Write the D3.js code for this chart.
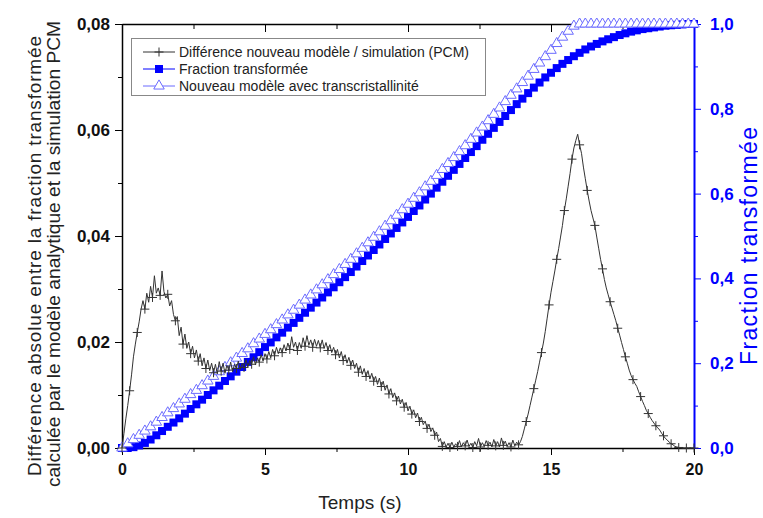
<!DOCTYPE html>
<html><head><meta charset="utf-8">
<script src="https://cdn.jsdelivr.net/npm/d3@7"></script>
<style>
html,body{margin:0;padding:0;background:#fff;}
text{font-family:"Liberation Sans",Arial,sans-serif;}
</style></head>
<body><svg id="c" width="763" height="518"></svg>
<script>
// ---------------- DATA ----------------
const xTicks = [0, 5, 10, 15, 20];
const yLeftTicks = [0, 0.02, 0.04, 0.06, 0.08];
const yRightTicks = [0, 0.2, 0.4, 0.6, 0.8, 1.0];
const seriesNames = ["Différence nouveau modèle / simulation (PCM)", "Fraction transformée", "Nouveau modèle avec transcristallinité"];
const xTitle = "Temps (s)";
const yLeftTitle = ["Différence absolue entre la fraction transformée", "calculée par le modèle analytique et la simulation PCM"];
const yRightTitle = "Fraction transformée";

// difference curve, sampled every 1/15 s from 0 to 20 s
const diffStep = 1 / 15;
const diffValues = [
0,0.0027,0.0055,0.0080,0.0108,0.0138,0.0172,0.0196,0.0218,0.0238,0.0262,0.0278,0.0262,0.0292,0.0275,
0.0305,0.0284,0.0325,0.0292,0.0302,0.0288,0.0334,0.0295,0.0283,0.0290,0.0268,0.0278,0.0252,0.0240,0.0248,
0.0212,0.0228,0.0196,0.0215,0.0188,0.0200,0.0178,0.0192,0.0170,0.0185,0.0164,0.0178,0.0155,0.0170,0.0150,
0.0166,0.0146,0.0160,0.0142,0.0158,0.0140,0.0163,0.0145,0.0160,0.0141,0.0156,0.0147,0.0162,0.0144,0.0158,
0.0150,0.0164,0.0148,0.0160,0.0152,0.0167,0.0153,0.0165,0.0158,0.0172,0.0157,0.0170,0.0162,0.0176,0.0164,
0.0178,0.0168,0.0182,0.0170,0.0186,0.0174,0.0190,0.0178,0.0189,0.0180,0.0195,0.0183,0.0198,0.0186,0.0210,
0.0190,0.0200,0.0184,0.0199,0.0188,0.0208,0.0192,0.0212,0.0194,0.0204,0.0190,0.0205,0.0192,0.0203,0.0189,
0.0204,0.0188,0.0199,0.0184,0.0195,0.0180,0.0190,0.0176,0.0186,0.0170,0.0182,0.0165,0.0176,0.0160,0.0171,
0.0156,0.0166,0.0150,0.0160,0.0143,0.0155,0.0139,0.0150,0.0135,0.0146,0.0130,0.0141,0.0126,0.0135,0.0120,
0.0132,0.0116,0.0126,0.0109,0.0119,0.0102,0.0112,0.0095,0.0104,0.0089,0.0098,0.0083,0.0092,0.0077,0.0086,
0.0070,0.0079,0.0064,0.0072,0.0057,0.0066,0.0050,0.0058,0.0044,0.0051,0.0037,0.0045,0.0031,0.0038,0.0024,
0.0030,0.0012,0.0018,0.0003,0.0012,0.0002,0.0009,0.0001,0.0011,0.0002,0.0008,0.0003,0.0014,0.0002,0.0010,
0.0004,0.0015,0.0003,0.0009,0.0001,0.0012,0.0004,0.0018,0.0002,0.0010,0.0003,0.0014,0.0005,0.0011,0.0002,
0.0016,0.0004,0.0012,0.0002,0.0019,0.0005,0.0013,0.0003,0.0010,0.0002,0.0015,0.0004,0.0011,0.0006,0.0012,
0.0022,0.0036,0.0050,0.0064,0.0080,0.0096,0.0112,0.0128,0.0144,0.0162,0.0180,0.0198,0.0220,0.0245,0.0270,
0.0294,0.0314,0.0334,0.0356,0.0376,0.0398,0.0420,0.0448,0.0470,0.0494,0.0518,0.0545,0.0566,0.0580,0.0592,
0.0572,0.0556,0.0530,0.0508,0.0486,0.0466,0.0448,0.0434,0.0420,0.0398,0.0377,0.0356,0.0338,0.0318,0.0302,
0.0289,0.0276,0.0264,0.0252,0.0240,0.0226,0.0213,0.0199,0.0186,0.0172,0.0160,0.0147,0.0137,0.0129,0.0122,
0.0116,0.0106,0.0097,0.0088,0.0080,0.0071,0.0065,0.0058,0.0052,0.0047,0.0042,0.0038,0.0034,0.0028,0.0023,
0.0018,0.0015,0.0011,0.0008,0.0006,0.0003,0.0002,0.0001,0,0,0,0,0,0,0,
0
];
const diffMarkerEvery = 4;

// fraction curves, sampled every 0.2 s
const fracStep = 0.2;
const fractionValues = [
0.000,0.000,0.002,0.006,0.012,0.020,0.030,0.040,0.050,0.060,
0.070,0.081,0.092,0.103,0.114,0.125,0.136,0.147,0.158,0.169,
0.180,0.191,0.203,0.214,0.226,0.238,0.249,0.261,0.272,0.284,
0.295,0.307,0.319,0.331,0.343,0.355,0.367,0.379,0.391,0.403,
0.415,0.428,0.441,0.454,0.467,0.480,0.493,0.506,0.519,0.532,
0.545,0.559,0.572,0.586,0.600,0.614,0.628,0.642,0.656,0.670,
0.684,0.698,0.712,0.727,0.741,0.755,0.769,0.783,0.797,0.811,
0.824,0.837,0.850,0.862,0.874,0.885,0.896,0.906,0.915,0.924,
0.932,0.940,0.947,0.953,0.959,0.964,0.969,0.974,0.978,0.982,
0.985,0.988,0.990,0.992,0.994,0.996,0.997,0.998,0.999,1.000,
1.000
];
const newModelValues = [
0.000,0.010,0.020,0.030,0.040,0.050,0.061,0.072,0.083,0.093,
0.104,0.115,0.126,0.136,0.147,0.158,0.169,0.180,0.190,0.201,
0.212,0.223,0.234,0.246,0.257,0.268,0.279,0.291,0.302,0.314,
0.325,0.337,0.349,0.361,0.373,0.385,0.397,0.409,0.421,0.433,
0.445,0.458,0.471,0.484,0.497,0.510,0.523,0.536,0.549,0.562,
0.575,0.589,0.602,0.616,0.629,0.643,0.657,0.671,0.685,0.699,
0.713,0.728,0.743,0.757,0.772,0.787,0.802,0.817,0.832,0.847,
0.862,0.877,0.893,0.908,0.923,0.938,0.954,0.969,0.983,0.995,
1.000,1.000,1.000,1.000,1.000,1.000,1.000,1.000,1.000,1.000,
1.000,1.000,1.000,1.000,1.000,1.000,1.000,1.000,1.000,1.000,
1.000
];

// ---------------- CHART ----------------
const svg = d3.select("#c");
const L = 122, R = 694, T = 24, B = 448;
const x = d3.scaleLinear().domain([0, 20]).range([L, R]);
const yL = d3.scaleLinear().domain([0, 0.08]).range([B, T]);
const yR = d3.scaleLinear().domain([0, 1]).range([B, T]);
const comma = v => d3.format(".2f")(v).replace(".", ",");
const comma1 = v => d3.format(".1f")(v).replace(".", ",");
const BLUE = "#0000ff", LBLUE = "#6b6bff", DARK = "#333";

const diffData = diffValues.map((v, i) => ({t: i * diffStep, v}));
const fracData = fractionValues.map((v, i) => ({t: i * fracStep, v}));
const newData = newModelValues.map((v, i) => ({t: i * fracStep, v}));

// top frame line with inward ticks
svg.append("g").attr("transform", `translate(0,${T})`)
  .call(d3.axisTop(x).tickValues([2.5, 7.5, 12.5, 17.5]).tickSizeInner(-5).tickSizeOuter(0).tickFormat(""))
  .call(g => g.selectAll("line,path").attr("stroke", "#000"));
svg.append("g").attr("transform", `translate(0,${T})`)
  .call(d3.axisTop(x).tickValues(xTicks).tickSizeInner(-8).tickSizeOuter(0).tickFormat(""))
  .call(g => g.select(".domain").attr("stroke-width", 1.3));

// bottom axis
svg.append("g").attr("transform", `translate(0,${B})`)
  .call(d3.axisBottom(x).tickValues([2.5, 7.5, 12.5, 17.5]).tickSizeInner(4).tickSizeOuter(0).tickFormat(""));
const gx = svg.append("g").attr("transform", `translate(0,${B})`)
  .call(d3.axisBottom(x).tickValues(xTicks).tickSizeInner(7).tickSizeOuter(0).tickPadding(9));
gx.select(".domain").attr("stroke-width", 1.5);
gx.selectAll("text").attr("font-size", 16).attr("font-weight", "bold").attr("fill", "#111");

// left axis
svg.append("g").attr("transform", `translate(${L},0)`)
  .call(d3.axisLeft(yL).tickValues([0.01, 0.03, 0.05, 0.07]).tickSizeInner(4).tickSizeOuter(0).tickFormat(""));
const gy = svg.append("g").attr("transform", `translate(${L},0)`)
  .call(d3.axisLeft(yL).tickValues(yLeftTicks).tickSizeInner(7).tickSizeOuter(0).tickPadding(5).tickFormat(comma));
gy.select(".domain").attr("stroke-width", 1.5);
gy.selectAll("text").attr("font-size", 17).attr("font-weight", "bold").attr("fill", "#111");

// right axis (blue)
const gr1 = svg.append("g").attr("transform", `translate(${R},0)`)
  .call(d3.axisRight(yR).tickValues([0.1, 0.3, 0.5, 0.7, 0.9]).tickSizeInner(4).tickSizeOuter(0).tickFormat(""));
gr1.selectAll("line,path").attr("stroke", BLUE);
const gr = svg.append("g").attr("transform", `translate(${R},0)`)
  .call(d3.axisRight(yR).tickValues(yRightTicks).tickSizeInner(7).tickSizeOuter(0).tickPadding(9).tickFormat(comma1));
gr.selectAll("line,path").attr("stroke", BLUE);
gr.select(".domain").attr("stroke-width", 2);
gr.selectAll("text").attr("font-size", 17).attr("font-weight", "bold").attr("fill", BLUE);

// clip
svg.append("clipPath").attr("id", "clip").append("rect")
  .attr("x", L - 6).attr("y", T - 6).attr("width", R - L + 12).attr("height", B - T + 12);
const plot = svg.append("g").attr("clip-path", "url(#clip)");

// fraction transformée (squares)
plot.append("path").datum(fracData)
  .attr("fill", "none").attr("stroke", BLUE).attr("stroke-width", 1)
  .attr("d", d3.line().x(d => x(d.t)).y(d => yR(d.v)));
plot.append("g").selectAll("rect").data(fracData).join("rect")
  .attr("x", d => x(d.t) - 4).attr("y", d => yR(d.v) - 4)
  .attr("width", 8).attr("height", 8).attr("fill", BLUE);

// nouveau modèle (open triangles)
const triPath = d3.symbol().type(d3.symbolTriangle).size(48);
plot.append("path").datum(newData)
  .attr("fill", "none").attr("stroke", LBLUE).attr("stroke-width", 1)
  .attr("d", d3.line().x(d => x(d.t)).y(d => yR(d.v)));
plot.append("g").selectAll("path").data(newData).join("path")
  .attr("transform", d => `translate(${x(d.t)},${yR(d.v)})`)
  .attr("d", triPath).attr("fill", "#fff").attr("stroke", LBLUE).attr("stroke-width", 1);

// difference (black line with crosses)
plot.append("path").datum(diffData)
  .attr("fill", "none").attr("stroke", DARK).attr("stroke-width", 1)
  .attr("d", d3.line().x(d => x(d.t)).y(d => yL(d.v)));
plot.append("g").selectAll("path").data(diffData.filter((d, i) => i % diffMarkerEvery === 0)).join("path")
  .attr("transform", d => `translate(${x(d.t)},${yL(d.v)})`)
  .attr("d", "M-4.5,0H4.5M0,-4.5V4.5").attr("stroke", DARK).attr("stroke-width", 1);

// legend
const lg = svg.append("g");
lg.append("rect").attr("x", 131.5).attr("y", 38.5).attr("width", 354).attr("height", 57)
  .attr("fill", "#fff").attr("stroke", "#888").attr("stroke-width", 1);
const rows = [52, 69, 86];
lg.append("line").attr("x1", 143).attr("x2", 175).attr("y1", rows[0]).attr("y2", rows[0]).attr("stroke", DARK);
lg.append("path").attr("transform", `translate(159,${rows[0]})`).attr("d", "M-4.5,0H4.5M0,-4.5V4.5").attr("stroke", DARK);
lg.append("line").attr("x1", 143).attr("x2", 175).attr("y1", rows[1]).attr("y2", rows[1]).attr("stroke", BLUE);
lg.append("rect").attr("x", 155).attr("y", rows[1] - 4).attr("width", 8).attr("height", 8).attr("fill", BLUE);
lg.append("line").attr("x1", 143).attr("x2", 175).attr("y1", rows[2]).attr("y2", rows[2]).attr("stroke", LBLUE);
lg.append("path").attr("transform", `translate(159,${rows[2]})`).attr("d", triPath).attr("fill", "#fff").attr("stroke", LBLUE);
seriesNames.forEach((s, i) => {
  lg.append("text").attr("x", 179).attr("y", rows[i]).attr("dy", "0.36em")
    .attr("font-size", 14).attr("fill", "#222").text(s);
});

// titles
svg.append("text").attr("x", 360).attr("y", 509).attr("text-anchor", "middle")
  .attr("font-size", 19).attr("fill", "#222").text(xTitle);
svg.append("text").attr("transform", "translate(41,256) rotate(-90)")
  .attr("text-anchor", "middle").attr("font-size", 19).attr("fill", "#222")
  .attr("textLength", 440).attr("lengthAdjust", "spacing").text(yLeftTitle[0]);
svg.append("text").attr("transform", "translate(60,254) rotate(-90)")
  .attr("text-anchor", "middle").attr("font-size", 19.2).attr("fill", "#222").text(yLeftTitle[1]);
svg.append("text").attr("transform", "translate(757,246) rotate(-90)")
  .attr("text-anchor", "middle").attr("font-size", 23).attr("fill", BLUE)
  .attr("textLength", 238).attr("lengthAdjust", "spacing").text(yRightTitle);
</script></body></html>
